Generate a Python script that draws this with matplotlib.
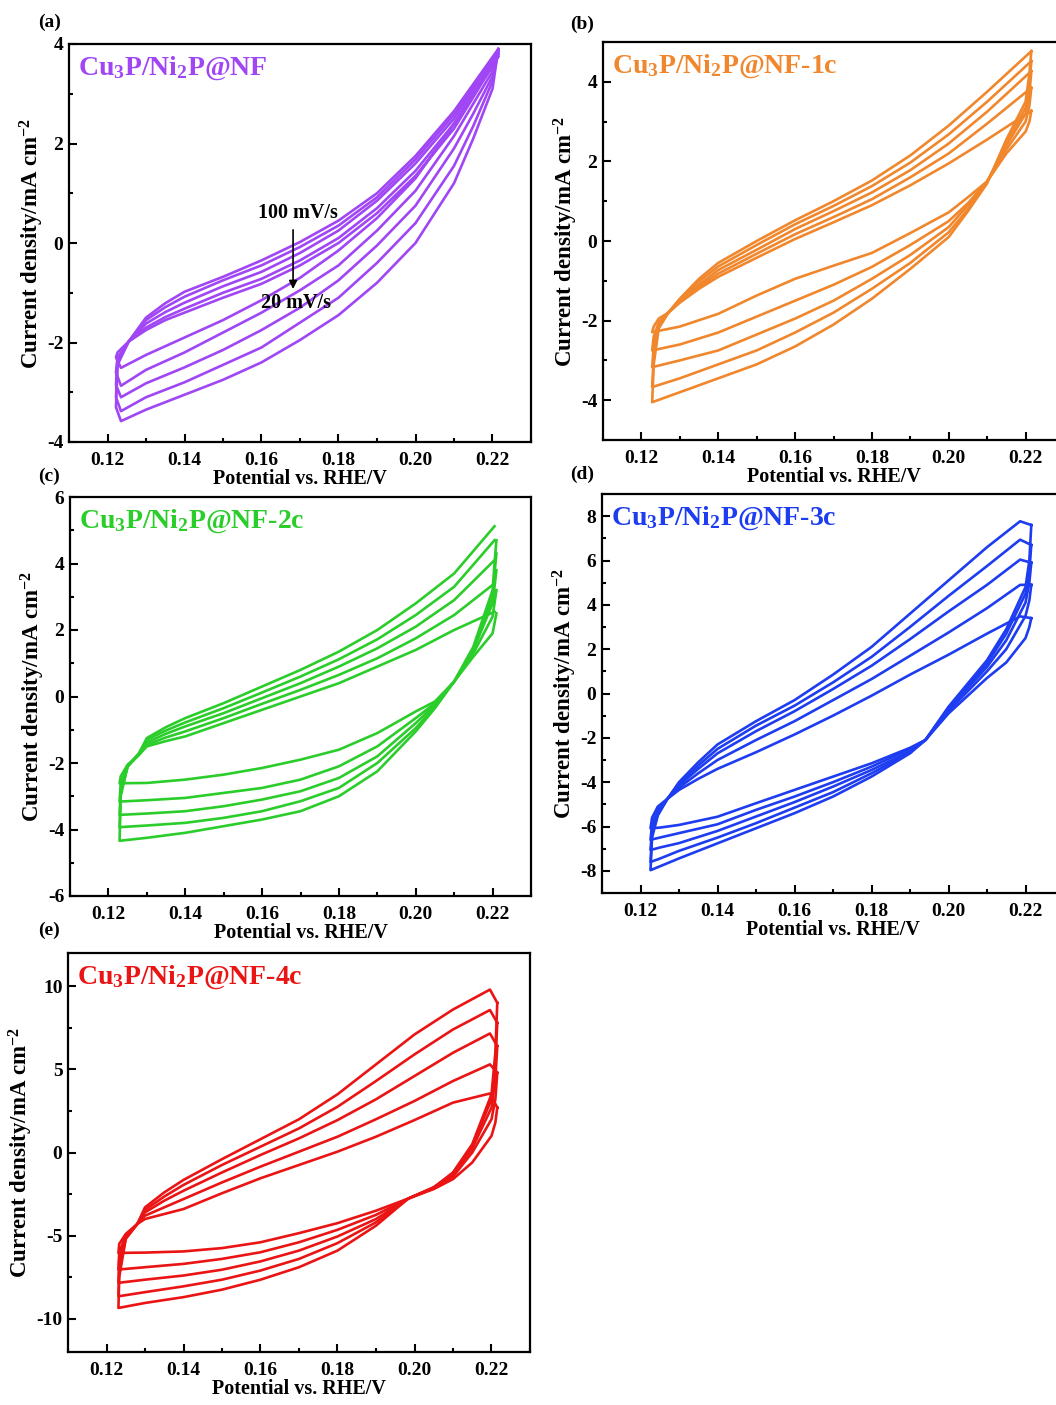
import matplotlib
matplotlib.use('Agg')
import matplotlib.pyplot as plt
from matplotlib.ticker import MultipleLocator

# 글꼴: Times 계열 굵게
plt.rcParams['font.family'] = ['Liberation Serif', 'DejaVu Serif']
plt.rcParams['font.weight'] = 'bold'
plt.rcParams['axes.unicode_minus'] = False
plt.rcParams['mathtext.fontset'] = 'custom'
plt.rcParams['mathtext.rm'] = 'Liberation Serif:bold'
plt.rcParams['mathtext.it'] = 'Liberation Serif:bold:italic'
plt.rcParams['mathtext.bf'] = 'Liberation Serif:bold'
plt.rcParams['mathtext.default'] = 'rm'

# ---------------- (a) Cu3P/Ni2P@NF ----------------
a_x_dn = [0.2215, 0.22, 0.215, 0.21, 0.20, 0.19, 0.18, 0.17, 0.16, 0.15, 0.14, 0.13, 0.1235]
a_dn = [
    [3.75, 3.55, 3.0, 2.4, 1.3, 0.5, -0.15, -0.7, -1.15, -1.55, -1.9, -2.25, -2.51],
    [3.8, 3.45, 2.8, 2.15, 1.05, 0.25, -0.45, -0.95, -1.4, -1.8, -2.2, -2.55, -2.87],
    [3.85, 3.35, 2.6, 1.9, 0.75, -0.05, -0.75, -1.3, -1.75, -2.15, -2.5, -2.82, -3.1],
    [3.85, 3.25, 2.35, 1.55, 0.4, -0.4, -1.1, -1.6, -2.1, -2.45, -2.8, -3.1, -3.38],
    [3.9, 3.1, 2.1, 1.2, 0.0, -0.8, -1.45, -1.95, -2.4, -2.75, -3.05, -3.35, -3.58],
]
a_x_up = [0.1222, 0.1226, 0.1255, 0.13, 0.135, 0.14, 0.15, 0.16, 0.17, 0.18, 0.19, 0.20, 0.21, 0.2215]
a_up = [
    [-2.3, -2.2, -1.98, -1.75, -1.55, -1.4, -1.1, -0.82, -0.45, 0.0, 0.6, 1.35, 2.3, 3.75],
    [-2.6, -2.3, -1.98, -1.7, -1.49, -1.32, -1.0, -0.72, -0.35, 0.1, 0.7, 1.45, 2.4, 3.8],
    [-2.85, -2.35, -1.98, -1.62, -1.39, -1.2, -0.87, -0.58, -0.2, 0.25, 0.85, 1.6, 2.5, 3.85],
    [-3.1, -2.4, -1.98, -1.55, -1.29, -1.08, -0.75, -0.45, -0.08, 0.35, 0.92, 1.68, 2.58, 3.85],
    [-3.3, -2.45, -1.98, -1.5, -1.21, -0.98, -0.68, -0.35, 0.02, 0.45, 1.0, 1.75, 2.65, 3.9],
]

# ---------------- (b) -1c ----------------
b_x_dn = [0.2215, 0.221, 0.22, 0.215, 0.21, 0.205, 0.20, 0.19, 0.18, 0.17, 0.16, 0.15, 0.14, 0.13, 0.1228]
b_dn = [
    [3.27, 3.0, 2.75, 2.2, 1.5, 1.1, 0.72, 0.2, -0.3, -0.62, -0.95, -1.37, -1.83, -2.15, -2.29],
    [3.85, 3.4, 3.0, 2.3, 1.5, 0.95, 0.5, -0.1, -0.65, -1.1, -1.5, -1.9, -2.3, -2.6, -2.75],
    [4.27, 3.7, 3.2, 2.4, 1.5, 0.9, 0.35, -0.35, -0.95, -1.5, -1.95, -2.35, -2.75, -3.0, -3.17],
    [4.52, 3.95, 3.35, 2.45, 1.48, 0.8, 0.22, -0.55, -1.2, -1.8, -2.3, -2.75, -3.1, -3.45, -3.67],
    [4.77, 4.2, 3.5, 2.55, 1.45, 0.75, 0.1, -0.7, -1.45, -2.1, -2.65, -3.1, -3.45, -3.8, -4.05],
]
b_x_up = [0.1228, 0.1232, 0.1245, 0.127, 0.13, 0.135, 0.14, 0.15, 0.16, 0.17, 0.18, 0.19, 0.20, 0.21, 0.2215]
b_up = [
    [-2.29, -2.15, -1.95, -1.8, -1.55, -1.2, -0.9, -0.42, 0.05, 0.47, 0.9, 1.4, 1.95, 2.55, 3.27],
    [-2.75, -2.4, -2.05, -1.8, -1.52, -1.15, -0.82, -0.32, 0.17, 0.6, 1.05, 1.6, 2.2, 2.95, 3.85],
    [-3.17, -2.65, -2.1, -1.8, -1.5, -1.1, -0.73, -0.22, 0.3, 0.75, 1.22, 1.78, 2.45, 3.25, 4.27],
    [-3.67, -2.9, -2.15, -1.8, -1.47, -1.02, -0.64, -0.1, 0.42, 0.88, 1.38, 1.97, 2.68, 3.5, 4.52],
    [-4.05, -3.1, -2.2, -1.8, -1.45, -0.95, -0.55, 0.0, 0.52, 1.0, 1.52, 2.15, 2.9, 3.75, 4.77],
]

# ---------------- (c) -2c ----------------
c_x_dn = [0.221, 0.2205, 0.22, 0.215, 0.21, 0.205, 0.20, 0.19, 0.18, 0.17, 0.16, 0.15, 0.14, 0.13, 0.1229]
c_dn = [
    [2.5, 2.2, 1.9, 1.2, 0.45, -0.15, -0.45, -1.1, -1.6, -1.9, -2.15, -2.35, -2.5, -2.6, -2.61],
    [3.2, 2.8, 2.4, 1.3, 0.45, -0.2, -0.65, -1.5, -2.1, -2.5, -2.75, -2.9, -3.05, -3.12, -3.16],
    [3.8, 3.3, 2.8, 1.4, 0.45, -0.25, -0.8, -1.8, -2.45, -2.85, -3.1, -3.3, -3.45, -3.52, -3.56],
    [4.3, 3.7, 3.0, 1.45, 0.45, -0.3, -0.95, -2.0, -2.75, -3.15, -3.45, -3.65, -3.8, -3.88, -3.93],
    [4.7, 4.0, 3.2, 1.5, 0.45, -0.35, -1.05, -2.25, -3.0, -3.45, -3.7, -3.9, -4.1, -4.25, -4.34],
]
c_x_up = [0.1229, 0.1232, 0.125, 0.128, 0.13, 0.135, 0.14, 0.15, 0.16, 0.17, 0.18, 0.19, 0.20, 0.21, 0.2205]
c_up = [
    [-2.61, -2.4, -2.05, -1.75, -1.5, -1.34, -1.2, -0.8, -0.4, 0.0, 0.4, 0.9, 1.4, 2.0, 2.55],
    [-3.16, -2.6, -2.1, -1.75, -1.45, -1.23, -1.05, -0.65, -0.22, 0.2, 0.65, 1.15, 1.75, 2.45, 3.4],
    [-3.56, -2.8, -2.1, -1.72, -1.38, -1.12, -0.9, -0.5, -0.05, 0.4, 0.9, 1.45, 2.1, 2.9, 4.1],
    [-3.93, -2.9, -2.1, -1.7, -1.3, -1.02, -0.78, -0.35, 0.12, 0.6, 1.12, 1.72, 2.45, 3.3, 4.7],
    [-4.34, -3.0, -2.1, -1.7, -1.25, -0.92, -0.65, -0.2, 0.3, 0.8, 1.35, 2.0, 2.8, 3.7, 5.12],
]

# ---------------- (d) -3c ----------------
d_x_dn = [0.2215, 0.221, 0.22, 0.215, 0.21, 0.20, 0.194, 0.19, 0.18, 0.17, 0.16, 0.15, 0.14, 0.13, 0.125, 0.1226]
d_dn = [
    [3.4, 3.0, 2.5, 1.4, 0.7, -0.9, -2.1, -2.45, -3.15, -3.75, -4.35, -4.95, -5.56, -5.93, -6.05, -6.08],
    [4.9, 4.2, 3.5, 2.0, 1.0, -0.8, -2.1, -2.5, -3.3, -4.0, -4.65, -5.25, -5.9, -6.3, -6.5, -6.6],
    [5.9, 5.0, 4.1, 2.4, 1.2, -0.7, -2.1, -2.6, -3.45, -4.2, -4.9, -5.55, -6.2, -6.75, -6.95, -7.06],
    [6.7, 5.5, 4.5, 2.7, 1.35, -0.65, -2.1, -2.65, -3.6, -4.45, -5.15, -5.85, -6.5, -7.1, -7.45, -7.6],
    [7.6, 6.0, 4.8, 2.9, 1.5, -0.6, -2.1, -2.7, -3.75, -4.65, -5.4, -6.08, -6.76, -7.44, -7.8, -7.97],
]
d_x_up = [0.1226, 0.123, 0.1245, 0.127, 0.13, 0.135, 0.14, 0.15, 0.16, 0.17, 0.18, 0.19, 0.20, 0.21, 0.2186, 0.2215]
d_up = [
    [-6.08, -5.6, -5.1, -4.75, -4.35, -3.85, -3.4, -2.65, -1.85, -1.0, -0.1, 0.85, 1.75, 2.7, 3.48, 3.4],
    [-6.6, -5.9, -5.25, -4.75, -4.25, -3.6, -3.0, -2.1, -1.25, -0.3, 0.65, 1.7, 2.75, 3.85, 4.9, 4.9],
    [-7.06, -6.1, -5.35, -4.75, -4.15, -3.4, -2.7, -1.7, -0.8, 0.2, 1.25, 2.45, 3.7, 4.9, 6.04, 5.9],
    [-7.6, -6.3, -5.45, -4.75, -4.1, -3.25, -2.5, -1.45, -0.55, 0.5, 1.65, 3.0, 4.4, 5.75, 6.94, 6.7],
    [-7.97, -6.5, -5.5, -4.75, -4.0, -3.1, -2.3, -1.25, -0.3, 0.85, 2.1, 3.6, 5.1, 6.6, 7.77, 7.6],
]

# ---------------- (e) -4c ----------------
e_x_dn = [0.2215, 0.221, 0.22, 0.215, 0.21, 0.205, 0.1984, 0.19, 0.18, 0.17, 0.16, 0.15, 0.14, 0.13, 0.1231]
e_dn = [
    [2.7, 1.8, 1.0, -0.6, -1.6, -2.2, -2.77, -3.5, -4.25, -4.85, -5.4, -5.75, -5.95, -6.02, -6.04],
    [4.8, 3.2, 2.0, 0.0, -1.45, -2.15, -2.77, -3.75, -4.65, -5.4, -6.0, -6.4, -6.7, -6.9, -7.04],
    [6.4, 4.4, 2.7, 0.25, -1.35, -2.1, -2.77, -4.0, -5.05, -5.9, -6.55, -7.05, -7.4, -7.65, -7.84],
    [7.8, 5.3, 3.2, 0.4, -1.25, -2.1, -2.77, -4.2, -5.45, -6.4, -7.1, -7.65, -8.05, -8.4, -8.65],
    [9.0, 6.0, 3.5, 0.5, -1.2, -2.1, -2.77, -4.4, -5.9, -6.9, -7.65, -8.25, -8.7, -9.05, -9.35],
]
e_x_up = [0.1231, 0.1233, 0.125, 0.128, 0.13, 0.135, 0.14, 0.15, 0.16, 0.17, 0.18, 0.19, 0.20, 0.21, 0.2196, 0.2215]
e_up = [
    [-6.04, -5.5, -4.9, -4.3, -4.0, -3.7, -3.4, -2.45, -1.55, -0.75, 0.05, 0.95, 1.95, 3.0, 3.55, 2.7],
    [-7.04, -6.0, -5.0, -4.3, -3.8, -3.3, -2.8, -1.8, -0.85, 0.05, 0.95, 2.0, 3.1, 4.3, 5.3, 4.8],
    [-7.84, -6.5, -5.1, -4.3, -3.6, -2.9, -2.3, -1.2, -0.15, 0.85, 1.95, 3.2, 4.6, 6.0, 7.16, 6.4],
    [-8.65, -7.0, -5.15, -4.3, -3.45, -2.65, -1.95, -0.75, 0.35, 1.45, 2.75, 4.3, 5.9, 7.4, 8.57, 7.8],
    [-9.35, -7.5, -5.2, -4.3, -3.3, -2.4, -1.65, -0.4, 0.8, 2.0, 3.5, 5.3, 7.1, 8.6, 9.8, 9.0],
]

W, H = 1056, 1405
fig = plt.figure(figsize=(W / 100, H / 100), dpi=100)


def box(l, r, t, b):
    # 픽셀 좌표 -> figure 비율
    return [l / W, 1 - b / H, (r - l) / W, (b - t) / H]


def panel(rect, x_dn, dn, x_up, up, color, ylim, ymaj, ymin, title, tag, tag_xy):
    ax = fig.add_axes(rect)
    for k in range(len(dn)):
        ax.plot(list(x_dn) + list(x_up), list(dn[k]) + list(up[k]), color=color, lw=1.9,
                solid_joinstyle='round')
    ax.set_xlim(0.11, 0.23)
    ax.set_ylim(*ylim)
    ax.set_xticks([0.12, 0.14, 0.16, 0.18, 0.20, 0.22])
    ax.set_xticklabels(['0.12', '0.14', '0.16', '0.18', '0.20', '0.22'])
    ax.xaxis.set_minor_locator(MultipleLocator(0.01))
    ax.yaxis.set_major_locator(MultipleLocator(ymaj))
    ax.yaxis.set_minor_locator(MultipleLocator(ymin))
    ax.tick_params(which='both', direction='in', top=False, right=False, width=1.5)
    ax.tick_params(which='major', length=6, labelsize=14, pad=4)
    ax.tick_params(axis='x', which='major', pad=7)
    ax.tick_params(which='minor', length=3)
    for s in ax.spines.values():
        s.set_linewidth(1.6)
    ax.set_xlabel('Potential vs. RHE/V', fontsize=14.5, fontweight='bold', labelpad=0)
    ax.set_ylabel('Current density/mA cm$^{-2}$', fontsize=16.5, fontweight='bold', labelpad=1)
    ax.text(0.02, 0.94, title, transform=ax.transAxes, color=color, fontsize=20,
            fontweight='bold', va='center', ha='left')
    fig.text(tag_xy[0] / W, 1 - tag_xy[1] / H, tag, fontsize=14, fontweight='bold',
             ha='left', va='center')
    return ax


ax_a = panel(box(69, 531, 44, 442), a_x_dn, a_dn, a_x_up, a_up, '#A046F5', (-4, 4), 2, 1,
             'Cu$_3$P/Ni$_2$P@NF', '(a)', (38, 22))
ax_a.text(0.1695, 0.6, '100 mV/s', fontsize=14.5, fontweight='bold', ha='center', va='center')
ax_a.text(0.1690, -1.2, '20 mV/s', fontsize=14.5, fontweight='bold', ha='center', va='center')
ax_a.annotate('', xy=(0.1682, -0.98), xytext=(0.1682, 0.32),
              arrowprops=dict(arrowstyle='-|>', color='black', lw=1.2, mutation_scale=12))

panel(box(603, 1064, 42, 440), b_x_dn, b_dn, b_x_up, b_up, '#F0872D', (-5, 5), 2, 1,
      'Cu$_3$P/Ni$_2$P@NF-1c', '(b)', (570, 24))
panel(box(70, 531, 497, 896), c_x_dn, c_dn, c_x_up, c_up, '#2BCD2B', (-6, 6), 2, 1,
      'Cu$_3$P/Ni$_2$P@NF-2c', '(c)', (38, 476))
panel(box(602, 1064, 494, 893), d_x_dn, d_dn, d_x_up, d_up, '#1E3CF0', (-9, 9), 2, 1,
      'Cu$_3$P/Ni$_2$P@NF-3c', '(d)', (570, 474))
panel(box(68, 530, 953, 1352), e_x_dn, e_dn, e_x_up, e_up, '#EB1414', (-12, 12), 5, 2.5,
      'Cu$_3$P/Ni$_2$P@NF-4c', '(e)', (38, 930))

fig.savefig('out.png', dpi=100)
